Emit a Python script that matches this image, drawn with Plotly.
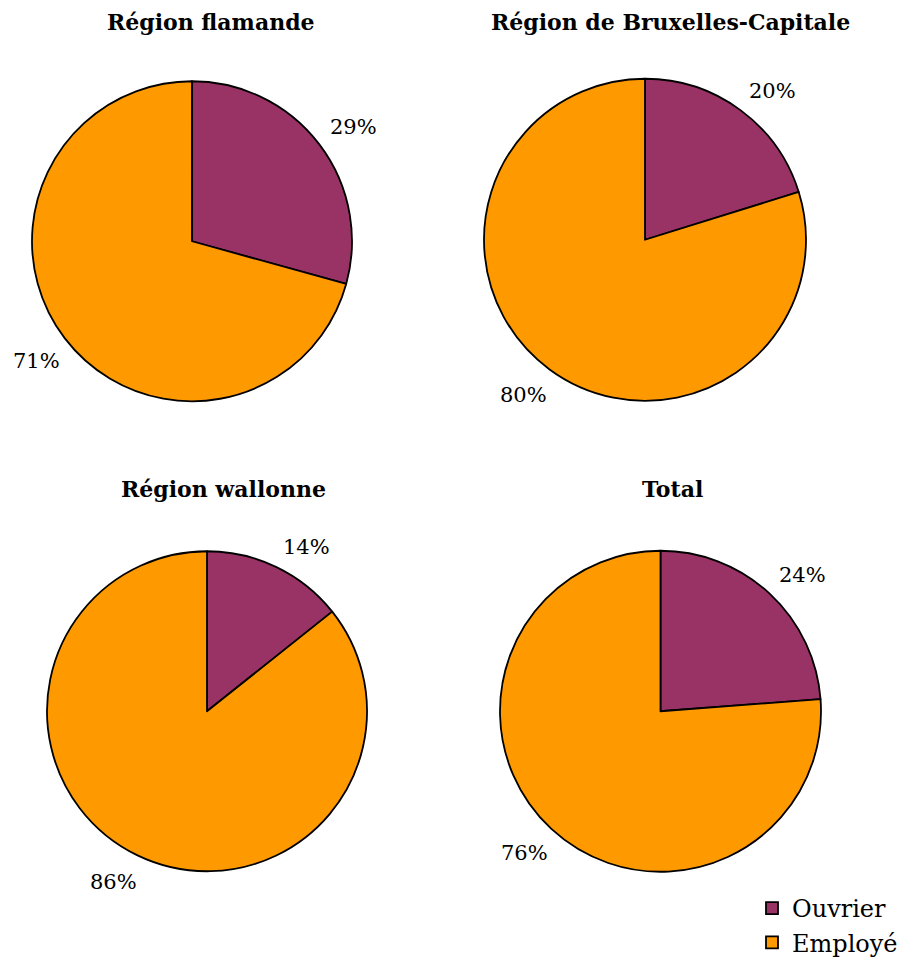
import math
import plotly.graph_objects as go

labels = ["Ouvrier", "Employé"]
regions = ["Région flamande", "Région de Bruxelles-Capitale", "Région wallonne", "Total"]
ouvrier = [29.3, 20.2, 14.3, 23.8]
employe = [70.7, 79.8, 85.7, 76.2]
colors = ["#993366", "#FF9900"]

PAGE_W, PAGE_H = 910, 965
OFF = 8  # default body margin of the html page
W, H = PAGE_W - OFF, PAGE_H - OFF

def px(x):
    return (x - OFF) / W

def py(y):
    return 1 - (y - OFF) / H

# pie boxes in page pixels (left, right, top, bottom)
boxes = [(32, 352, 81, 402), (484, 806, 78, 402), (47, 367, 551, 873), (500, 821, 551, 873)]
title_pos = [(211, 22), (670, 22), (223, 490), (672, 490)]
LABEL_DIST = 1.065  # distance of the label's nearest corner, relative to radius

FONT = "DejaVu Serif"
fig = go.Figure()
for i, name in enumerate(regions):
    l, r, t, b = boxes[i]
    vals = [ouvrier[i], employe[i]]
    fig.add_trace(go.Pie(
        labels=labels,
        values=vals,
        sort=False,
        direction="clockwise",
        rotation=0,
        marker=dict(colors=colors, line=dict(color="black", width=1.8)),
        textinfo="none",
        domain=dict(x=[px(l), px(r)], y=[py(b), py(t)]),
        showlegend=(i == 0),
        hoverinfo="label+percent",
    ))
    tx, ty = title_pos[i]
    fig.add_annotation(
        x=px(tx), y=py(ty), xref="paper", yref="paper",
        text="<b>" + name + "</b>", showarrow=False,
        font=dict(family=FONT, size=22, color="black"),
        xanchor="center", yanchor="middle",
    )
    # percentage labels outside each slice, corner anchored on the mid-angle ray
    cx, cy = (l + r) / 2, (t + b) / 2
    rad = min(r - l, b - t) / 2
    total = sum(vals)
    cum = 0.0
    for v in vals:
        mid = (cum + v / 2) / total * 2 * math.pi
        cum += v
        s, c = math.sin(mid), math.cos(mid)
        lx = cx + LABEL_DIST * rad * s
        ly = cy - LABEL_DIST * rad * c
        fig.add_annotation(
            x=px(lx), y=py(ly), xref="paper", yref="paper",
            text=f"{round(v / total * 100)}%", showarrow=False,
            font=dict(family=FONT, size=21, color="black"),
            xanchor="left" if s > 0 else "right",
            yanchor="bottom" if c > 0 else "top",
            xshift=0 if s > 0 else 6, yshift=-3,
        )

fig.update_layout(
    width=W, height=H,
    margin=dict(l=0, r=0, t=0, b=0),
    paper_bgcolor="white", plot_bgcolor="white",
    legend=dict(
        x=px(752), y=py(887), xanchor="left", yanchor="top",
        font=dict(family=FONT, size=24, color="black"),
        bgcolor="rgba(0,0,0,0)",
    ),
)
fig.write_html("out.html")
